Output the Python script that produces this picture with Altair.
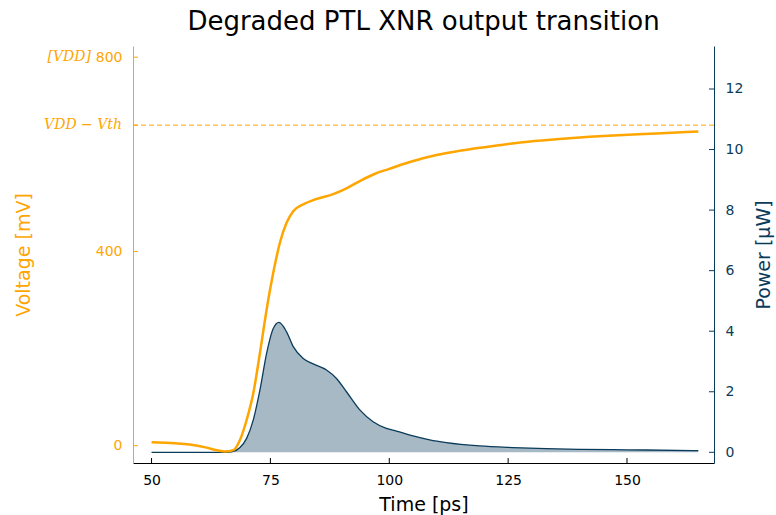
import altair as alt
import pandas as pd

# ---- data ----
time_v = [50, 55, 58, 61.6, 64, 65.4, 67.2, 68.6, 70, 71.4, 72.8, 74.2, 75.6, 77, 78.4,
          79.8, 81.9, 84.7, 88.2, 91, 94, 97, 100, 103, 107.1, 114.1, 121.1, 128.1,
          135.1, 142.1, 149.2, 156.2, 165]
voltage_mv = [7, 5, 2.5, -4, -10, -12, -9, 12, 53, 108, 191, 280, 356, 418, 459,
              483, 497, 508, 518, 530, 546, 560, 570, 580, 592, 606, 616, 625,
              631, 636, 640, 643, 647]

time_p = [50, 60, 65.8, 67.2, 68.6, 70, 71.4, 72.8, 74.2, 75.6, 76.8, 78.4, 79.8, 81.9,
          84, 86.8, 88.9, 91, 93.8, 96.6, 99.4, 101.5, 105, 108.5, 112, 119, 126, 133,
          140, 147, 154, 165]
power_uw = [0, 0, 0, 0.03, 0.16, 0.46, 1.07, 2.06, 3.27, 4.09, 4.29, 3.98, 3.49, 3.10,
            2.92, 2.72, 2.44, 2.0, 1.40, 1.01, 0.79, 0.70, 0.54, 0.41, 0.32, 0.21, 0.156,
            0.12, 0.10, 0.088, 0.077, 0.055]

x_ticks = [50, 75, 100, 125, 150]
v_ticks = [0, 400, 660, 800]
p_ticks = [0, 2, 4, 6, 8, 10, 12]
vdd_minus_vth = [660]
math_labels = pd.DataFrame({"v": [800, 660], "label": ["[VDD]", "VDD − Vth"],
                            "shift": [-42, -11]})

ORANGE = "#FFA500"
BLUE = "#0b3b5a"
FILL = "#a7b9c5"
FONT = "DejaVu Sans"
MATH_FONT = "DejaVu Serif"

W, H = 581, 417

xscale = alt.Scale(domain=[46.1, 168.3], nice=False, zero=False)
vscale = alt.Scale(domain=[-35.6, 823], nice=False, zero=False)
pscale = alt.Scale(domain=[-0.353, 13.42], nice=False, zero=False)

vdf = pd.DataFrame({"t": time_v, "v": voltage_mv})
pdf = pd.DataFrame({"t": time_p, "p": power_uw})
xt = pd.DataFrame({"t": x_ticks})
vt = pd.DataFrame({"v": v_ticks})
pt = pd.DataFrame({"p": p_ticks})
vth = pd.DataFrame({"v": vdd_minus_vth})

x_axis = alt.Axis(values=x_ticks, title="Time [ps]", ticks=False, labelPadding=10,
                  domainColor="black", labelColor="black", titleColor="black",
                  labelFontSize=14, titleFontSize=19, titleFontWeight="normal",
                  labelFont=FONT, titleFont=FONT, grid=False, titlePadding=8)

v_axis = alt.Axis(orient="left", values=v_ticks, title="Voltage [mV]", ticks=False,
                  labelPadding=11, domainColor=ORANGE, labelColor=ORANGE,
                  titleColor=ORANGE, labelFontSize=14, titleFontSize=19,
                  titleFontWeight="normal", titleFont=FONT, labelFont=FONT, grid=False,
                  labelExpr="datum.value == 660 ? '' : datum.label",
                  titlePadding=62)

p_axis = alt.Axis(orient="right", values=p_ticks, title="Power [µW]", ticks=False,
                  labelPadding=11, domainColor=BLUE, labelColor=BLUE, titleColor=BLUE,
                  labelFontSize=14, titleFontSize=19, titleFontWeight="normal",
                  labelFont=FONT, titleFont=FONT, grid=False, titlePadding=12,
                  titleAngle=270, titleBaseline="top")

# ---- power group ----
power_area = alt.Chart(pdf).mark_area(color=FILL, interpolate="monotone").encode(
    x=alt.X("t:Q", scale=xscale, axis=x_axis),
    y=alt.Y("p:Q", scale=pscale, axis=p_axis),
    y2=alt.datum(0),
)
power_line = alt.Chart(pdf).mark_line(color=BLUE, strokeWidth=1.3, interpolate="monotone").encode(
    x=alt.X("t:Q", scale=xscale),
    y=alt.Y("p:Q", scale=pscale),
)
power_ticks = alt.Chart(pt).mark_rule(color=BLUE, strokeWidth=1).encode(
    y=alt.Y("p:Q", scale=pscale),
    x=alt.value(W), x2=alt.value(W - 5),
)
power = alt.layer(power_area, power_line, power_ticks)

# ---- voltage group ----
v_line = alt.Chart(vdf).mark_line(color=ORANGE, strokeWidth=2.5, interpolate="monotone").encode(
    x=alt.X("t:Q", scale=xscale),
    y=alt.Y("v:Q", scale=vscale, axis=v_axis),
)
v_dash = alt.Chart(vth).mark_rule(color=ORANGE, strokeWidth=1, strokeDash=[5, 3]).encode(
    y=alt.Y("v:Q", scale=vscale),
    x=alt.value(0), x2=alt.value(W),
)
v_ticks_m = alt.Chart(vt).mark_rule(color=ORANGE, strokeWidth=1).encode(
    y=alt.Y("v:Q", scale=vscale),
    x=alt.value(0), x2=alt.value(5),
)
x_ticks_m = alt.Chart(xt).mark_rule(color="black", strokeWidth=1).encode(
    x=alt.X("t:Q", scale=xscale),
    y=alt.value(H), y2=alt.value(H - 5),
)
v_math = alt.Chart(math_labels).mark_text(
    align="right", baseline="middle", font=MATH_FONT, fontStyle="italic",
    fontSize=14, color=ORANGE,
).encode(
    y=alt.Y("v:Q", scale=vscale),
    x=alt.value(0),
    text="label:N",
    xOffset=alt.XOffset("shift:Q", scale=None),
)
voltage = alt.layer(v_line, v_dash, v_ticks_m, x_ticks_m, v_math)

chart = alt.layer(power, voltage).resolve_scale(y="independent").properties(
    width=W, height=H,
    title=alt.TitleParams("Degraded PTL XNR output transition", fontSize=26, font=FONT,
                          fontWeight="normal", anchor="middle", color="black",
                          offset=11),
    autosize=alt.AutoSizeParams(type="none"),
    padding={"left": 133, "top": 46, "right": 62, "bottom": 52},
).configure_view(stroke=None)

chart.save("out.html", embed_options={"renderer": "svg", "actions": False})
